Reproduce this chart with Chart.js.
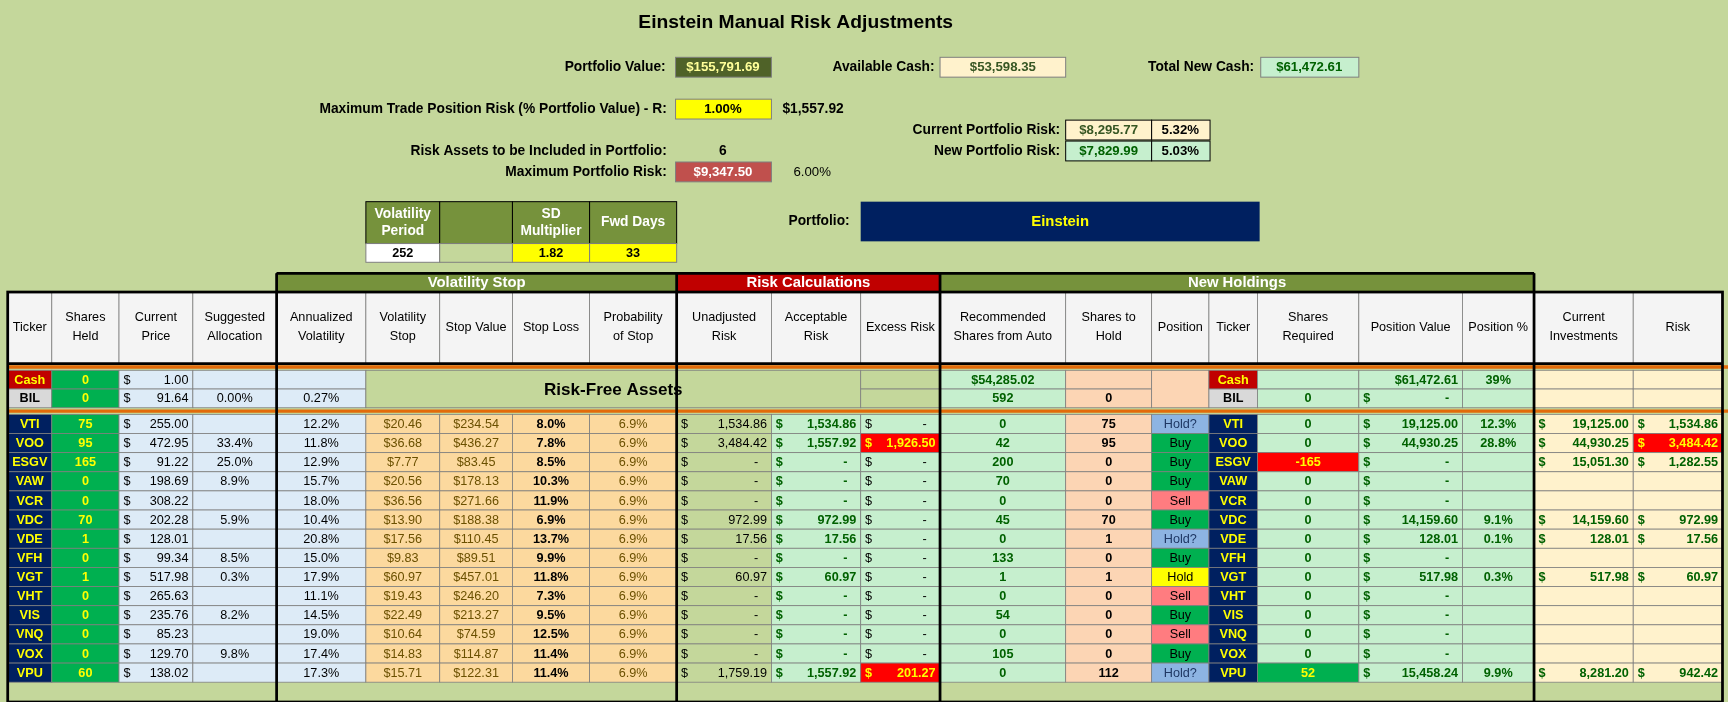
<!DOCTYPE html>
<html><head><meta charset="utf-8">
<script src="https://cdn.jsdelivr.net/npm/chart.js@4.4.0/dist/chart.umd.min.js"></script>
<style>html,body{margin:0;padding:0;background:#c4d79b}#w{width:1728px;height:702px}</style>
</head><body><div id="w"><canvas id="c"></canvas></div>
<script>
// ---- data ----
const tickers=["VTI","VOO","ESGV","VAW","VCR","VDC","VDE","VFH","VGT","VHT","VIS","VNQ","VOX","VPU"];
const sharesHeld=[75,95,165,0,0,70,1,0,1,0,0,0,0,60];
const prices=["255.00","472.95","91.22","198.69","308.22","202.28","128.01","99.34","517.98","265.63","235.76","85.23","129.70","138.02"];
const suggested=["","33.4%","25.0%","8.9%","","5.9%","","8.5%","0.3%","","8.2%","","9.8%",""];
const annVol=["12.2%","11.8%","12.9%","15.7%","18.0%","10.4%","20.8%","15.0%","17.9%","11.1%","14.5%","19.0%","17.4%","17.3%"];
const volStop=["$20.46","$36.68","$7.77","$20.56","$36.56","$13.90","$17.56","$9.83","$60.97","$19.43","$22.49","$10.64","$14.83","$15.71"];
const stopValue=["$234.54","$436.27","$83.45","$178.13","$271.66","$188.38","$110.45","$89.51","$457.01","$246.20","$213.27","$74.59","$114.87","$122.31"];
const stopLoss=["8.0%","7.8%","8.5%","10.3%","11.9%","6.9%","13.7%","9.9%","11.8%","7.3%","9.5%","12.5%","11.4%","11.4%"];
const probStop=["6.9%","6.9%","6.9%","6.9%","6.9%","6.9%","6.9%","6.9%","6.9%","6.9%","6.9%","6.9%","6.9%","6.9%"];
const unadjRisk=["1,534.86","3,484.42","-","-","-","972.99","17.56","-","60.97","-","-","-","-","1,759.19"];
const acceptRisk=["1,534.86","1,557.92","-","-","-","972.99","17.56","-","60.97","-","-","-","-","1,557.92"];
const excessRisk=["-","1,926.50","-","-","-","-","-","-","-","-","-","-","-","201.27"];
const recommended=[0,42,200,70,0,45,0,133,1,0,54,0,105,0];
const sharesHold=[75,95,0,0,0,70,1,0,1,0,0,0,0,112];
const position=["Hold?","Buy","Buy","Buy","Sell","Buy","Hold?","Buy","Hold","Sell","Buy","Sell","Buy","Hold?"];
const sharesReq=[0,0,-165,0,0,0,0,0,0,0,0,0,0,52];
const posValue=["19,125.00","44,930.25","-","-","-","14,159.60","128.01","-","517.98","-","-","-","-","15,458.24"];
const posPct=["12.3%","28.8%","","","","9.1%","0.1%","","0.3%","","","","","9.9%"];
const curInv=["19,125.00","44,930.25","15,051.30","","","14,159.60","128.01","","517.98","","","","","8,281.20"];
const riskCol=["1,534.86","3,484.42","1,282.55","","","972.99","17.56","","60.97","","","","","942.42"];
const headers=["Ticker","Shares\nHeld","Current\nPrice","Suggested\nAllocation","Annualized\nVolatility","Volatility\nStop","Stop Value","Stop Loss","Probability\nof Stop","Unadjusted\nRisk","Acceptable\nRisk","Excess Risk","Recommended\nShares from Auto","Shares to\nHold","Position","Ticker","Shares\nRequired","Position Value","Position %","Current\nInvestments","Risk"];
const groups=[["Volatility Stop",4,9,"#76923c"],["Risk Calculations",9,12,"#c00000"],["New Holdings",12,19,"#76923c"]];

// ---- layout (display units) ----
const E=[7,47,108,175,251,332,399,465,535,614,700,781,853,967,1045,1097,1141,1233,1327,1392,1482,1563];
const ROW0=376, RH=17.36;

const FF="'Liberation Sans Narrow','Liberation Sans',sans-serif";
const plugin={id:'sheet',afterDraw(ch){
 const c=ch.ctx,xs=ch.scales.x,ys=ch.scales.y;
 const X=v=>xs.getPixelForValue(v),Y=v=>ys.getPixelForValue(v);
 const k=X(100)-X(0); const s=k/100;
 function font(sz,b){c.font=(b?'bold ':'')+(sz*s)+'px '+FF;}
 function rect(x0,y0,x1,y1,bg,border,lw){c.fillStyle=bg;c.fillRect(X(x0),Y(y0),X(x1)-X(x0),Y(y1)-Y(y0));if(border){c.strokeStyle=border;c.lineWidth=lw||1;c.strokeRect(X(x0),Y(y0),X(x1)-X(x0),Y(y1)-Y(y0));}}
 function text(t,x,y,al,col,sz,b){font(sz||11.5,b);c.fillStyle=col||'#000';c.textAlign=al||'center';c.textBaseline='middle';c.fillText(t,X(x),Y(y));}
 function cell(ci,y0,y1,bg,t,o){o=o||{};const x0=E[ci],x1=E[ci+1];rect(x0,y0,x1,y1,bg,'#7f7f7f',0.8);
  if(t===''||t==null)return;const ym=(y0+y1)/2+0.5;
  if(o.dollar){text('$',x0+4,ym,'left',o.col,11.5,o.b);text(String(t),x1-(t==='-'?12:4),ym,'right',o.col,11.5,o.b);}
  else if(o.al==='right')text(String(t),x1-4,ym,'right',o.col,11.5,o.b);
  else text(String(t),(x0+x1)/2,ym,'center',o.col,11.5,o.b);}
 // title + top
 text("Einstein Manual Risk Adjustments",722,21,'center','#000',17.5,true);
 const lab=(t,x,y)=>text(t,x,y,'right','#000',12.5,true);
 lab("Portfolio Value:",604,61);rect(613,52,700,70,'#4f6228','#7f7f7f');text("$155,791.69",656,61.5,'center','#ffff99',12,true);
 lab("Available Cash:",848,61);rect(853,52,967,70,'#fff2cc','#7f7f7f');text("$53,598.35",910,61.5,'center','#375623',12,true);
 lab("Total New Cash:",1138,61);rect(1144,52,1233,70,'#c6efce','#7f7f7f');text("$61,472.61",1188,61.5,'center','#006100',12,true);
 lab("Maximum Trade Position Risk (% Portfolio Value) - R:",605,99);rect(613,90,700,108,'#ffff00','#7f7f7f');text("1.00%",656,99.5,'center','#000',12,true);text("$1,557.92",710,99,'left','#000',12.5,true);
 lab("Current Portfolio Risk:",962,118);rect(967,109,1045,127,'#fff2cc','#000');text("$8,295.77",1006,118.5,'center','#375623',12,true);rect(1045,109,1098,127,'#fff2cc','#000');text("5.32%",1071,118.5,'center','#000',12,true);
 lab("Risk Assets to be Included in Portfolio:",605,137);text("6",656,137,'center','#000',12.5,true);
 lab("New Portfolio Risk:",962,137);rect(967,128,1045,146,'#c6efce','#000');text("$7,829.99",1006,137.5,'center','#006100',12,true);rect(1045,128,1098,146,'#c6efce','#000');text("5.03%",1071,137.5,'center','#000',12,true);
 lab("Maximum Portfolio Risk:",605,156);rect(613,147,700,165,'#c0504d','#7f7f7f');text("$9,347.50",656,156.5,'center','#fff',12,true);text("6.00%",737,156,'center','#000',12,false);
 // volatility box
 const vh=[["Volatility","Period"],[],["SD","Multiplier"],["Fwd Days"]];const vv=["252","","1.82","33"];const vbg=["#fff","#c4d79b","#ffff00","#ffff00"];
 for(let i=0;i<4;i++){const x0=E[5+i],x1=E[6+i];rect(x0,183,x1,221,'#76923c','#000');vh[i].forEach((l,j)=>text(l,(x0+x1)/2,202+(j-(vh[i].length-1)/2)*16,'center','#fff',12.5,true));rect(x0,221,x1,238,vbg[i],'#7f7f7f');text(vv[i],(x0+x1)/2,230,'center','#000',11.5,i!==1);}
 lab("Portfolio:",771,201);rect(781,183,1143,219,'#002060');text("Einstein",962,201,'center','#ffff00',13.5,true);
 // group headers
 groups.forEach(g=>{rect(E[g[1]],248,E[g[2]],265,g[3],'#000',1);text(g[0],(E[g[1]]+E[g[2]])/2,257,'center','#fff',13.5,true);});
 // header row
 headers.forEach((h,i)=>{rect(E[i],265,E[i+1],330,'#f4f4f4','#7f7f7f',0.8);const ls=h.split('\n');ls.forEach((l,j)=>text(l,(E[i]+E[i+1])/2,297+(j-(ls.length-1)/2)*17,'center','#000',11.5,false));});
 rect(E[0],330,E[21],376,'#c4d79b');
 // cash/bil rows
 const yc0=336,yc1=353,yb1=370;
 cell(0,yc0,yc1,'#c00000','Cash',{col:'#ffff00',b:true});cell(0,yc1,yb1,'#d9d9d9','BIL',{b:true});
 cell(1,yc0,yc1,'#00b050','0',{col:'#ffff00',b:true});cell(1,yc1,yb1,'#00b050','0',{col:'#ffff00',b:true});
 cell(2,yc0,yc1,'#ddebf7','1.00',{dollar:true});cell(2,yc1,yb1,'#ddebf7','91.64',{dollar:true});
 cell(3,yc0,yc1,'#ddebf7','');cell(3,yc1,yb1,'#ddebf7','0.00%');
 cell(4,yc0,yc1,'#ddebf7','');cell(4,yc1,yb1,'#ddebf7','0.27%');
 rect(E[5],yc0,E[11],yb1,'#c4d79b','#7f7f7f',0.8);text("Risk-Free Assets",(E[5]+E[11])/2,354,'center','#000',15.5,true);
 cell(11,yc0,yc1,'#c4d79b','');cell(11,yc1,yb1,'#c4d79b','');
 cell(12,yc0,yc1,'#c6efce','$54,285.02',{col:'#006100',b:true});cell(12,yc1,yb1,'#c6efce','592',{col:'#006100',b:true});
 cell(13,yc0,yc1,'#fcd5b4','');cell(13,yc1,yb1,'#fcd5b4','0',{b:true});
 cell(14,yc0,yb1,'#fcd5b4','');
 cell(15,yc0,yc1,'#c00000','Cash',{col:'#ffff00',b:true});cell(15,yc1,yb1,'#d9d9d9','BIL',{b:true});
 cell(16,yc0,yc1,'#c6efce','');cell(16,yc1,yb1,'#c6efce','0',{col:'#006100',b:true});
 cell(17,yc0,yc1,'#c6efce','$61,472.61',{al:'right',col:'#006100',b:true});cell(17,yc1,yb1,'#c6efce','-',{dollar:true,col:'#006100',b:true});
 cell(18,yc0,yc1,'#c6efce','39%',{col:'#006100',b:true});cell(18,yc1,yb1,'#c6efce','');
 for(const ci of [19,20]){cell(ci,yc0,yc1,'#fff2cc','');cell(ci,yc1,yb1,'#fff2cc','');}
 // data rows
 const posBg={"Hold?":"#8db4e2","Buy":"#00b050","Sell":"#ff7c80","Hold":"#ffff00"};
 tickers.forEach((t,r)=>{const y0=ROW0+r*RH,y1=y0+RH;
  cell(0,y0,y1,'#002060',t,{col:'#ffff00',b:true});
  cell(1,y0,y1,'#00b050',sharesHeld[r],{col:'#ffff00',b:true});
  cell(2,y0,y1,'#ddebf7',prices[r],{dollar:true});
  cell(3,y0,y1,'#ddebf7',suggested[r]);cell(4,y0,y1,'#ddebf7',annVol[r]);
  cell(5,y0,y1,'#fcd99e',volStop[r],{col:'#6b5000'});cell(6,y0,y1,'#fcd99e',stopValue[r],{col:'#6b5000'});
  cell(7,y0,y1,'#fcd99e',stopLoss[r],{b:true});cell(8,y0,y1,'#fcd99e',probStop[r],{col:'#6b5000'});
  cell(9,y0,y1,'#c4d79b',unadjRisk[r],{dollar:true});
  cell(10,y0,y1,'#c6efce',acceptRisk[r],{dollar:true,col:'#006100',b:true});
  const ex=excessRisk[r]!=='-';cell(11,y0,y1,ex?'#ff0000':'#c6efce',excessRisk[r],{dollar:true,col:ex?'#ffff00':'#000',b:ex});
  cell(12,y0,y1,'#c6efce',recommended[r],{col:'#006100',b:true});
  cell(13,y0,y1,'#fcd5b4',sharesHold[r],{b:true});
  cell(14,y0,y1,posBg[position[r]],position[r],{col:position[r]==='Hold?'?'#1f3864':'#000'});
  cell(15,y0,y1,'#002060',t,{col:'#ffff00',b:true});
  const sr=sharesReq[r];cell(16,y0,y1,sr<0?'#ff0000':sr>0?'#00b050':'#c6efce',sr,{col:sr!==0?'#ffff00':'#006100',b:true});
  cell(17,y0,y1,'#c6efce',posValue[r],{dollar:true,col:'#006100',b:true});
  cell(18,y0,y1,'#c6efce',posPct[r],{col:'#006100',b:true});
  cell(19,y0,y1,'#fff2cc',curInv[r],curInv[r]?{dollar:true,col:'#006100',b:true}:{});
  const rr=r===1;cell(20,y0,y1,rr?'#ff0000':'#fff2cc',riskCol[r],riskCol[r]?{dollar:true,col:rr?'#ffff00':'#006100',b:true}:{});
 });
 // orange lines
 c.strokeStyle='#e26b0a';c.lineWidth=3*s;
 [333,373].forEach(y=>{c.beginPath();c.moveTo(X(E[0]),Y(y));c.lineTo(X(E[21]+5),Y(y));c.stroke();});
 // thick borders
 c.strokeStyle='#000';c.lineWidth=2.5*s;
 c.strokeRect(X(E[0]),Y(265),X(E[21])-X(E[0]),Y(637)-Y(265));
 [4,9,12,19].forEach(i=>{c.beginPath();c.moveTo(X(E[i]),Y(248));c.lineTo(X(E[i]),Y(637));c.stroke();});
 c.beginPath();c.moveTo(X(E[0]),Y(330));c.lineTo(X(E[21]),Y(330));c.stroke();
 c.beginPath();c.moveTo(X(E[4]),Y(248));c.lineTo(X(E[19]),Y(248));c.stroke();
}};
new Chart(document.getElementById('c'),{type:'scatter',data:{datasets:[{data:[]}]},
 options:{responsive:true,maintainAspectRatio:false,animation:false,layout:{padding:0},
  plugins:{legend:{display:false},tooltip:{enabled:false}},
  scales:{x:{type:'linear',min:0,max:1568,display:false},y:{type:'linear',min:0,max:637,reverse:true,display:false}}},
 plugins:[plugin]});
</script></body></html>
